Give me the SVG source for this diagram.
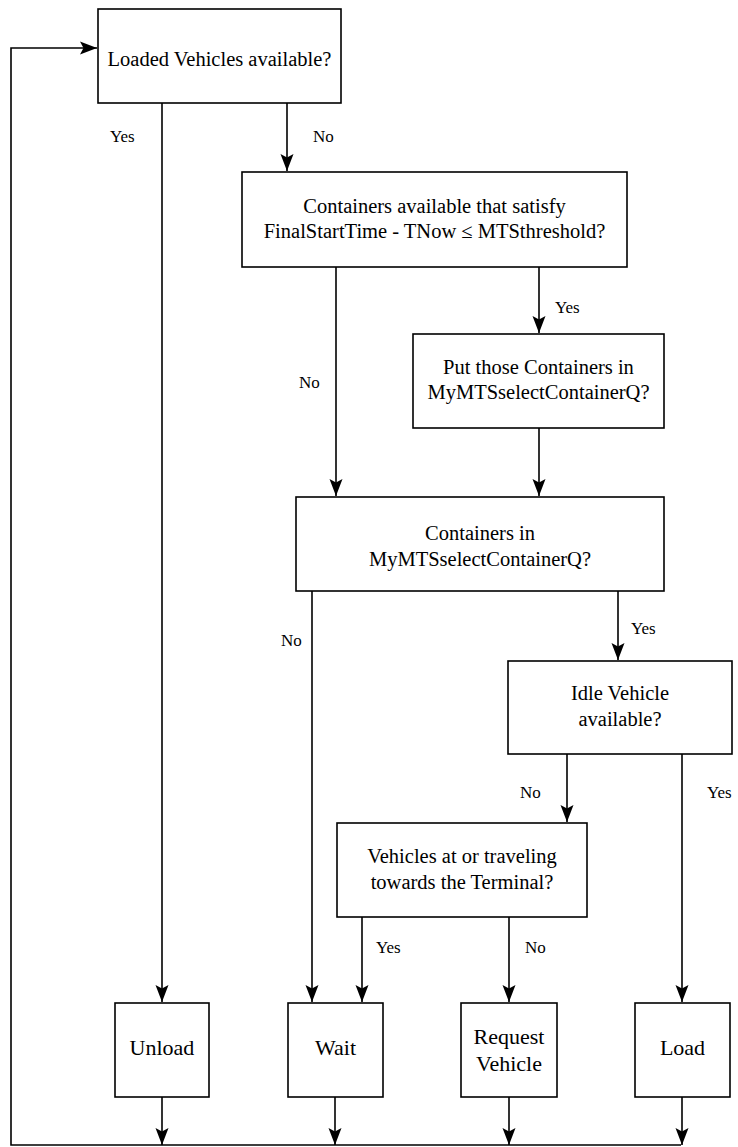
<svg xmlns="http://www.w3.org/2000/svg" width="738" height="1147" viewBox="0 0 738 1147" font-family="Liberation Serif, Times New Roman, serif">
  <style>
    .box { fill: #ffffff; stroke: #000000; stroke-width: 1.6; }
    .t { font-size: 20.5px; fill: #000000; text-anchor: middle; }
    .tb { font-size: 22px; fill: #000000; text-anchor: middle; }
    .lbl { font-size: 17px; fill: #000000; }
    .edge { fill: none; stroke: #000000; stroke-width: 1.6; }
    .arr { marker-end: url(#head); }
  </style>
  <defs>
    <marker id="head" markerUnits="userSpaceOnUse" markerWidth="18" markerHeight="14" refX="17" refY="7" orient="auto">
      <path d="M0,0.5 L17,7 L0,13.5 L3.5,7 z" fill="#000000"/>
    </marker>
  </defs>

  <rect width="738" height="1147" fill="#ffffff"/>

  <g id="connectors">
    <!-- return loop back to the first decision -->
    <path class="edge" d="M681,1145 H11 V48 H97" marker-end="url(#head)"/>
    <path class="edge arr" d="M162,103 V1002"/>
    <path class="edge arr" d="M287,103 V171"/>
    <path class="edge arr" d="M336,267 V496"/>
    <path class="edge arr" d="M539,267 V333"/>
    <path class="edge arr" d="M539,428 V496"/>
    <path class="edge arr" d="M312,591 V1002"/>
    <path class="edge arr" d="M618,591 V660"/>
    <path class="edge arr" d="M567,754 V822"/>
    <path class="edge arr" d="M682,754 V1002"/>
    <path class="edge arr" d="M362,917 V1002"/>
    <path class="edge arr" d="M509,917 V1002"/>
    <path class="edge arr" d="M162,1097 V1145"/>
    <path class="edge arr" d="M335,1097 V1145"/>
    <path class="edge arr" d="M509,1097 V1145"/>
    <path class="edge arr" d="M682,1097 V1145"/>
    <!-- branch labels -->
    <text class="lbl" x="110" y="142">Yes</text>
    <text class="lbl" x="313" y="142">No</text>
    <text class="lbl" x="299" y="388">No</text>
    <text class="lbl" x="555" y="313">Yes</text>
    <text class="lbl" x="281" y="646">No</text>
    <text class="lbl" x="631" y="634">Yes</text>
    <text class="lbl" x="520" y="798">No</text>
    <text class="lbl" x="707" y="798">Yes</text>
    <text class="lbl" x="376" y="953">Yes</text>
    <text class="lbl" x="525" y="953">No</text>
  </g>

  <g id="loaded-vehicles">
    <rect class="box" x="98" y="9" width="243" height="94"/>
    <text class="t" x="219.5" y="66">Loaded Vehicles available?</text>
  </g>

  <g id="containers-threshold">
    <rect class="box" x="242" y="172" width="385" height="95"/>
    <text class="t" x="434.5" y="213">Containers available that satisfy</text>
    <text class="t" x="434.5" y="238">FinalStartTime - TNow ≤ MTSthreshold?</text>
  </g>

  <g id="put-containers">
    <rect class="box" x="413" y="334" width="251" height="94"/>
    <text class="t" x="538.5" y="374">Put those Containers in</text>
    <text class="t" x="538.5" y="399">MyMTSselectContainerQ?</text>
  </g>

  <g id="containers-in-queue">
    <rect class="box" x="296" y="497" width="368" height="94"/>
    <text class="t" x="480" y="540">Containers in</text>
    <text class="t" x="480" y="566">MyMTSselectContainerQ?</text>
  </g>

  <g id="idle-vehicle">
    <rect class="box" x="508" y="661" width="224" height="93"/>
    <text class="t" x="620" y="700">Idle Vehicle</text>
    <text class="t" x="620" y="726">available?</text>
  </g>

  <g id="vehicles-terminal">
    <rect class="box" x="337" y="823" width="250" height="94"/>
    <text class="t" x="462" y="863">Vehicles at or traveling</text>
    <text class="t" x="462" y="889">towards the Terminal?</text>
  </g>

  <g id="unload">
    <rect class="box" x="115" y="1003" width="94" height="94"/>
    <text class="tb" x="162" y="1055">Unload</text>
  </g>

  <g id="wait">
    <rect class="box" x="288" y="1003" width="95" height="94"/>
    <text class="tb" x="335.5" y="1055">Wait</text>
  </g>

  <g id="request-vehicle">
    <rect class="box" x="461" y="1003" width="96" height="94"/>
    <text class="tb" x="509" y="1044">Request</text>
    <text class="tb" x="509" y="1071">Vehicle</text>
  </g>

  <g id="load">
    <rect class="box" x="635" y="1003" width="95" height="94"/>
    <text class="tb" x="682.5" y="1055">Load</text>
  </g>
</svg>
